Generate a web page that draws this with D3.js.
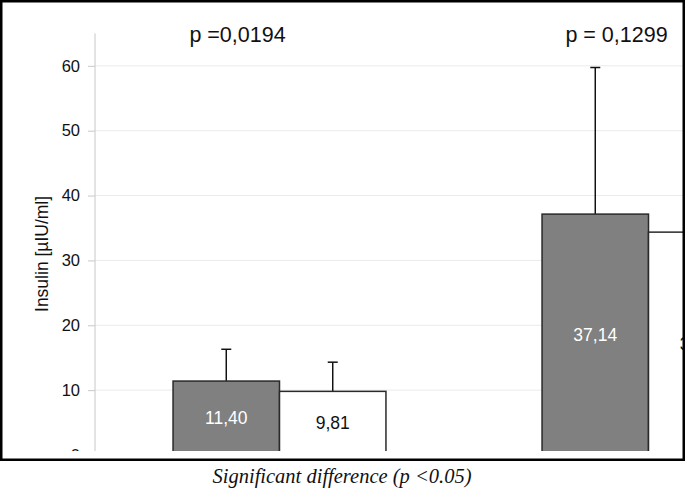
<!DOCTYPE html>
<html><head><meta charset="utf-8">
<script src="https://cdn.jsdelivr.net/npm/d3@7"></script>
<style>body{margin:0;background:#fff}svg{display:block}</style>
</head><body>
<svg id="c" width="685" height="492"></svg>
<script>
const categories = ["Group A", "Group B"];
const series = ["Series 1", "Series 2"];
const meanSeries1 = [11.40, 37.14];
const meanSeries2 = [9.81, 34.36];
const sdSeries1 = [4.9, 22.6];
const sdSeries2 = [4.5, 20.0];
const valueLabels1 = ["11,40", "37,14"];
const valueLabels2 = ["9,81", "34,36"];
const pLabels = ["p =0,0194", "p = 0,1299"];
const yTicks = [0, 10, 20, 30, 40, 50, 60];
const yTitle = "Insulin [\u00b5IU/ml]";
const caption = "Significant difference (p <0.05)";

const svg = d3.select("#c");
const y = d3.scaleLinear().domain([0, 65]).range([455, 33.4]);
const x = d3.scaleBand().domain(categories).range([95, 833]).paddingInner(0.423).paddingOuter(0.2115);
const xs = d3.scaleBand().domain(series).range([0, x.bandwidth()]);

svg.append("defs").append("clipPath").attr("id","clip").append("rect")
  .attr("x", 2).attr("y", 2).attr("width", 682).attr("height", 449);

const g = svg.append("g").attr("clip-path","url(#clip)");

// gridlines
g.append("g").selectAll("line").data(yTicks.filter(d=>d>0)).join("line")
  .attr("x1", 95).attr("x2", 685).attr("y1", d=>y(d)).attr("y2", d=>y(d))
  .attr("stroke", "#ebebeb").attr("stroke-width", 1);

// axis
const ax = g.append("g").attr("transform","translate(95,0)")
  .call(d3.axisLeft(y).tickValues(yTicks).tickSize(7).tickPadding(8).tickFormat(d3.format("d")));
ax.select(".domain").attr("stroke","#c8c8c8").attr("d", `M0,${y(65)}V${y(0)}`);
ax.selectAll(".tick line").attr("stroke","#c8c8c8");
ax.selectAll(".tick text").attr("font-family","Liberation Sans, Arial, sans-serif").attr("font-size", 16.5).attr("fill","#111");

const data = categories.map((c,i)=>[
  {cat:c, s:series[0], v:meanSeries1[i], sd:sdSeries1[i], lab:valueLabels1[i], fill:"#808080", tc:"#fff"},
  {cat:c, s:series[1], v:meanSeries2[i], sd:sdSeries2[i], lab:valueLabels2[i], fill:"#ffffff", tc:"#111"}
]).flat();

// error bars (drawn behind bars)
const eb = g.append("g").selectAll("g").data(data).join("g");
eb.append("line").attr("x1", d=>x(d.cat)+xs(d.s)+xs.bandwidth()/2).attr("x2", d=>x(d.cat)+xs(d.s)+xs.bandwidth()/2)
  .attr("y1", d=>y(d.v)).attr("y2", d=>y(d.v+d.sd)).attr("stroke","#111").attr("stroke-width",1.5);
eb.append("line").attr("x1", d=>x(d.cat)+xs(d.s)+xs.bandwidth()/2-5).attr("x2", d=>x(d.cat)+xs(d.s)+xs.bandwidth()/2+5)
  .attr("y1", d=>y(d.v+d.sd)).attr("y2", d=>y(d.v+d.sd)).attr("stroke","#111").attr("stroke-width",1.5);

g.append("g").selectAll("rect").data(data).join("rect")
  .attr("x", d=>x(d.cat)+xs(d.s)).attr("width", xs.bandwidth())
  .attr("y", d=>y(d.v)).attr("height", d=>y(0)-y(d.v))
  .attr("fill", d=>d.fill).attr("stroke","#2a2a2a").attr("stroke-width",1.5);

g.append("g").selectAll("text").data(data).join("text")
  .attr("x", d=>x(d.cat)+xs(d.s)+xs.bandwidth()/2).attr("y", d=>y(d.v/2))
  .attr("text-anchor","middle").attr("dominant-baseline","central")
  .attr("font-family","Liberation Sans, Arial, sans-serif").attr("font-size",17.5)
  .attr("fill", d=>d.tc).text(d=>d.lab);

// p-value labels
g.append("g").selectAll("text").data(categories).join("text")
  .attr("x", (d,i)=>x(d)+x.bandwidth()/2 - (i===0?42:32)).attr("y", 42)
  .attr("text-anchor","middle")
  .attr("font-family","Liberation Sans, Arial, sans-serif").attr("font-size",21.5).attr("fill","#111")
  .text((d,i)=>pLabels[i]);

// y title
g.append("text").attr("transform", `translate(48,${y(31)}) rotate(-90)`)
  .attr("text-anchor","middle")
  .attr("font-family","Liberation Sans, Arial, sans-serif").attr("font-size",17.5).attr("fill","#111")
  .text(yTitle);

// border
svg.append("rect").attr("x",1.25).attr("y",1.25).attr("width",682.5).attr("height",458.5)
  .attr("fill","none").attr("stroke","#000").attr("stroke-width",2.5);

// caption
svg.append("text").attr("x", 342).attr("y", 483).attr("text-anchor","middle")
  .attr("font-family","Liberation Serif, Times New Roman, serif").attr("font-style","italic")
  .attr("font-size",20.5).attr("fill","#111").text(caption);
</script>
</body></html>
